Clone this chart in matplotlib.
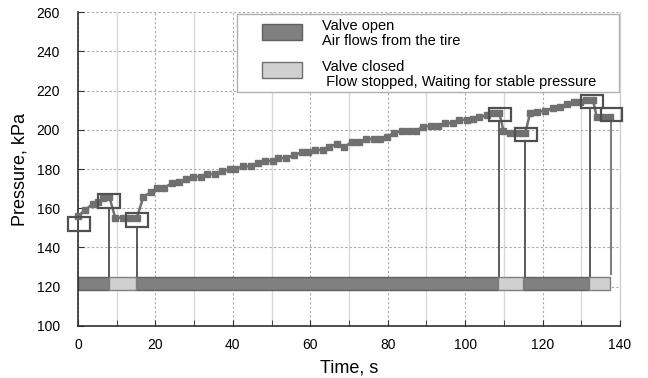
import matplotlib
matplotlib.use('Agg')
import matplotlib.pyplot as plt
from matplotlib.patches import Rectangle
from matplotlib.ticker import MultipleLocator

plt.rcParams['font.family'] = ['Liberation Sans', 'DejaVu Sans']

time_s = [0.1, 1.8, 3.8, 5.2, 6.5, 8.1, 9.6, 11.5, 13.4, 15.2, 16.9, 18.8, 20.5, 22.3,
          24.2, 26.2, 27.8, 29.8, 31.8, 33.2, 35.4, 37.3, 39.3, 40.6, 42.5, 44.6, 46.4,
          48.3, 50.3, 51.7, 53.7, 55.8, 57.8, 59.5, 61.2, 63.2, 64.9, 66.8, 68.7, 70.7,
          72.7, 74.4, 76.5, 78.0, 79.7, 81.6, 83.6, 85.6, 87.3, 89.2, 91.1, 93.1, 94.8,
          96.8, 98.5, 100.4, 102.1, 103.7, 105.6, 107.3, 108.8, 109.9, 111.6, 113.8,
          115.5, 116.8, 118.5, 120.6, 122.6, 124.5, 126.2, 128.1, 129.7, 131.2, 133.0,
          134.0, 135.7, 137.3]
pressure = [156.1, 159.1, 162.2, 163.3, 165.1, 165.9, 155.2, 155.2, 155.2, 155.2, 165.9,
            168.1, 170.5, 170.5, 172.7, 173.2, 174.7, 176.1, 176.1, 177.4, 177.4, 178.8,
            180.0, 180.0, 181.4, 181.4, 183.1, 184.2, 184.2, 185.8, 185.5, 187.1, 188.5,
            188.5, 189.7, 189.7, 191.4, 192.7, 191.0, 193.9, 193.9, 195.3, 195.3, 195.1,
            196.5, 198.2, 199.5, 199.5, 199.5, 201.6, 202.1, 202.1, 203.4, 203.4, 205.1,
            205.1, 205.3, 206.5, 207.4, 208.7, 208.7, 199.5, 198.5, 198.2, 198.2, 208.7,
            209.2, 209.7, 210.9, 211.7, 213.0, 214.3, 214.3, 215.2, 215.2, 206.6, 206.6,
            206.6]

# valve state segments: (start, duration)
open_segs = [(0, 8), (15, 93.5), (115, 17)]
closed_segs = [(8, 7), (108.5, 6.5), (132, 5.5)]

# stable-pressure readings marked with boxes
box_t = [0.2, 8.0, 15.3, 109.0, 115.7, 132.8, 137.8]
box_p = [152.0, 163.8, 154.0, 207.8, 197.6, 214.4, 207.8]
# connector lines from valve bar to boxes
link_t = [8.0, 15.3, 108.8, 115.5, 132.2, 137.6]
link_top = [160.3, 150.5, 204.3, 194.1, 210.9, 204.3]

fig = plt.figure(figsize=(6.48, 3.78), dpi=100)
ax = fig.add_axes([0.1204, 0.1376, 0.8364, 0.8306])

ax.set_xlim(0, 140)
ax.set_ylim(100, 260)
ax.xaxis.set_major_locator(MultipleLocator(20))
ax.xaxis.set_minor_locator(MultipleLocator(10))
ax.yaxis.set_major_locator(MultipleLocator(20))

ax.grid(which='major', axis='both', color='#a8a8a8', linestyle=(0, (2, 2)), linewidth=0.8)
ax.grid(which='minor', axis='x', color='#d8d8d8', linestyle='-', linewidth=1.0)
ax.axvline(140, color='#d0d0d0', linewidth=1.0, clip_on=False, zorder=0.5)
ax.set_axisbelow(True)

for s in ['top', 'right']:
    ax.spines[s].set_visible(False)
for s in ['left', 'bottom']:
    ax.spines[s].set_color('#303030')
    ax.spines[s].set_linewidth(1.2)

ax.tick_params(which='both', direction='in', length=4, color='#303030', labelsize=10)
ax.tick_params(axis='x', which='both', pad=9)
ax.tick_params(axis='y', which='both', pad=13)

# valve bar
ax.broken_barh(open_segs, (118.5, 6.5), facecolors='#808080', edgecolors='#606060', linewidth=1)
ax.broken_barh(closed_segs, (118.5, 6.5), facecolors='#d0d0d0', edgecolors='#808080', linewidth=1)

# connectors
ax.vlines(link_t[:-1], 125, link_top[:-1], color='#404040', linewidth=1.2, zorder=3)
ax.vlines(link_t[-1:], 126, link_top[-1:], color='#808080', linewidth=1.5, zorder=3)

# pressure curve
ax.plot(time_s, pressure, color='#707070', linewidth=1.8, marker='s', markersize=5,
        markeredgecolor='#707070', zorder=4, clip_on=False)

# boxes
for bt, bp in zip(box_t, box_p):
    ax.add_patch(Rectangle((bt - 2.8, bp - 3.5), 5.6, 7, fill=False,
                           edgecolor='#505050', linewidth=1.6, zorder=5, clip_on=False))

ax.set_xlabel('Time, s', fontsize=13, labelpad=5)
ax.set_ylabel('Pressure, kPa', fontsize=13, labelpad=6)

# legend drawn in axes coordinates
tr = ax.transAxes
ax.add_patch(Rectangle((0.2934, 0.745), 0.704, 0.249, transform=tr, facecolor='white',
                       edgecolor='#b0b0b0', linewidth=1, zorder=6))
ax.add_patch(Rectangle((0.339, 0.910), 0.074, 0.052, transform=tr, facecolor='#808080',
                       edgecolor='#606060', linewidth=1, zorder=7))
ax.add_patch(Rectangle((0.339, 0.789), 0.074, 0.052, transform=tr, facecolor='#d0d0d0',
                       edgecolor='#707070', linewidth=1, zorder=7))
ax.text(0.450, 0.955, 'Valve open', transform=tr, fontsize=10.5, va='center', zorder=7)
ax.text(0.450, 0.908, 'Air flows from the tire', transform=tr, fontsize=10.5, va='center', zorder=7)
ax.text(0.450, 0.825, 'Valve closed', transform=tr, fontsize=10.5, va='center', zorder=7)
ax.text(0.450, 0.776, ' Flow stopped, Waiting for stable pressure', transform=tr,
        fontsize=10.5, va='center', zorder=7)

fig.savefig('out.png', dpi=100)
